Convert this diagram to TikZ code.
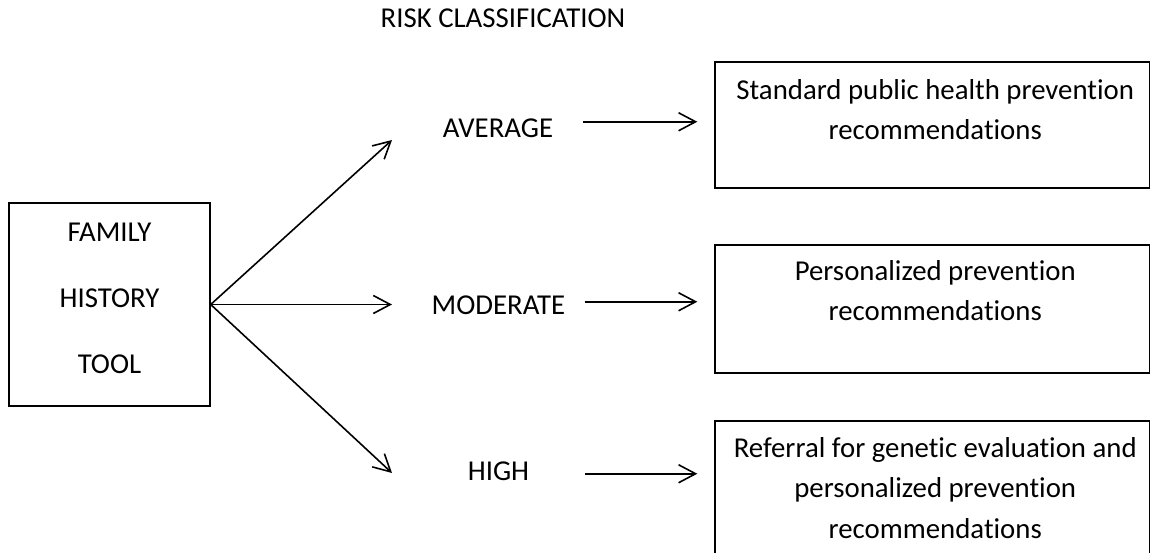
\documentclass[tikz,border=0pt]{standalone}
\usepackage{fontspec}
\setmainfont{Carlito}[Ligatures=NoCommon]
\usepackage{tikz}
\usetikzlibrary{arrows.meta}

\tikzset{
  box/.style={draw=black, line width=1.4pt, inner sep=0pt},
  lbl/.style={inner sep=0pt, font=\fontsize{28.8}{34}\selectfont},
  arr/.style={draw=black, line width=1.6pt, -{Straight Barb[length=17pt,width=18pt]}}
}
\newcommand{\boxtext}[5]{\parbox[c][#2pt][t]{#1pt}{\centering\fontsize{28.8}{#3}\selectfont\rule{0pt}{#4pt}#5}}

\begin{document}
\begin{tikzpicture}[x=1pt,y=-1pt]

\useasboundingbox (0,0) rectangle (1151,552);

\begin{scope}[xshift=0cm]
\node[lbl, anchor=base] (risk) at (503,27) {RISK CLASSIFICATION};

\node[box] (fam) at (109.5,304.5) {\boxtext{201}{203}{66}{38}{FAMILY\\HISTORY\\TOOL}};

\node[lbl, anchor=base] (avg) at (498,137) {AVERAGE};
\node[lbl, anchor=base] (mod) at (498.5,314) {MODERATE};
\node[lbl, anchor=base] (high) at (498.5,480) {HIGH};

\node[box] (std) at (932.25,125) {\boxtext{434.5}{126}{40.5}{37}{\hspace*{6pt}Standard public health prevention\\\hspace*{6pt}recommendations}};
\node[box] (pers) at (932.25,309) {\boxtext{434.5}{128}{40.5}{35}{\hspace*{6pt}Personalized prevention\\\hspace*{6pt}recommendations}};
\node[box] (ref) at (932.25,491) {\boxtext{434.5}{140}{40.5}{36}{\hspace*{6pt}Referral for genetic evaluation and\\\hspace*{6pt}personalized prevention\\\hspace*{6pt}recommendations}};

\coordinate (avgtip) at (392,140);
\coordinate (modtip) at (392,304.5);
\coordinate (hightip) at (392,473);

\draw[arr] (fam.east) -- (avgtip);
\draw[arr] (fam.east) -- (modtip);
\draw[arr] (fam.east) -- (hightip);

\coordinate (avgout) at ([yshift=6pt]avg.east);
\coordinate (modout) at ([yshift=3pt]mod.east);
\coordinate (highout) at ([yshift=-3pt]high.east);

\draw[arr, shorten <=30pt, shorten >=17pt] (avgout) -- (avgout -| std.west);
\draw[arr, shorten <=19pt, shorten >=17pt] (modout) -- (modout -| pers.west);
\draw[arr, shorten <=56pt, shorten >=17pt] (highout) -- (highout -| ref.west);
\end{scope}

\end{tikzpicture}
\end{document}
